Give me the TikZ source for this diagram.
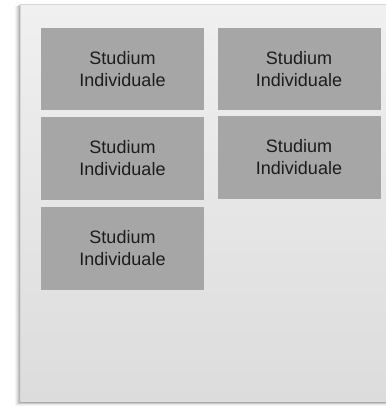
\documentclass[tikz,border=0pt]{standalone}
\usepackage{fontspec}
\setmainfont{Liberation Sans}
\definecolor{paneltop}{HTML}{F0F0F0}
\definecolor{panelbot}{HTML}{DCDCDC}
\definecolor{panelline}{HTML}{D6D6D6}
\definecolor{boxfill}{HTML}{A6A6A6}
\definecolor{txt}{HTML}{1C1C1C}
\begin{document}
\begin{tikzpicture}[x=1pt,y=-1pt,
  stbox/.style={rectangle, fill=boxfill, draw=none, minimum width=163pt, minimum height=82.5pt,
    inner sep=0pt, align=center, text=txt, font=\fontsize{18}{22}\selectfont}]
\useasboundingbox (0,0) rectangle (385,406);
\fill[white] (0,0) rectangle (385,406);
% soft shadow
\foreach \d/\o in {5/0.04,4/0.05,3/0.06,2/0.08,1/0.10}{
  \fill[black,opacity=\o] (20-\d,4.5+\d*0.3) rectangle (390,402+\d*0.8);
}
% panel
\shade[top color=paneltop,bottom color=panelbot] (20,4.5) rectangle (390,402);
\draw[panelline,line width=0.8pt] (20,4.5) rectangle (390,402);
\draw[black!33,line width=1.2pt] (20,402.5) -- (390,402.5);
% boxes
\node[stbox] (b1) at (122.5,69) {Studium\\Individuale};
\node[stbox] (b2) at (299,69) {Studium\\Individuale};
\node[stbox] (b3) at (122.5,158.25) {Studium\\Individuale};
\node[stbox] (b4) at (299,157.25) {Studium\\Individuale};
\node[stbox] (b5) at (122.5,248.25) {Studium\\Individuale};
\end{tikzpicture}
\end{document}
